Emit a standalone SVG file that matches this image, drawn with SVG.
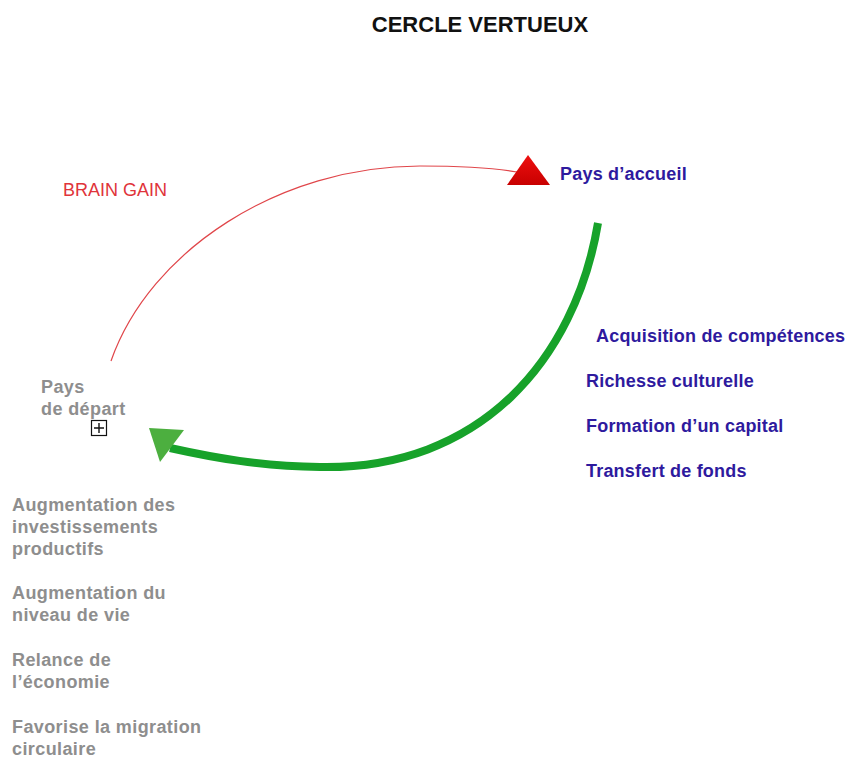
<svg xmlns="http://www.w3.org/2000/svg" width="850" height="758" viewBox="0 0 850 758">
<style>
  text { font-family: "Liberation Sans", Arial, sans-serif; }
  .title { font-size: 22px; font-weight: bold; fill: #111; }
  .blue { font-size: 18px; font-weight: bold; fill: #2e1a9e; letter-spacing: 0.2px; }
  .grey { font-size: 18px; font-weight: bold; fill: #8e8e8e; letter-spacing: 0.4px; }
  .red { font-size: 18px; fill: #e0343a; }
  .redline { fill: none; stroke: #e0464a; stroke-width: 1.2; }
  .greenline { fill: none; stroke: #17a22a; stroke-width: 8; stroke-linecap: butt; }
</style>
<defs>
  <linearGradient id="redGrad" x1="0" y1="0" x2="0" y2="1">
    <stop offset="0" stop-color="#ee1010"/>
    <stop offset="1" stop-color="#c80000"/>
  </linearGradient>
</defs>
<rect width="850" height="758" fill="#ffffff"/>

<g id="title">
  <text class="title" x="480" y="32" text-anchor="middle">CERCLE VERTUEUX</text>
</g>

<g id="connectors">
  <path id="brain-gain-arc" class="redline" d="M111,361 C150,250 280,166 420,166 C460,166 495,168 517,172"/>
  <path id="return-arc" class="greenline" d="M598,223 C575,360 480,470 320,467 C260,466 215,458 170,448"/>
  <polygon id="green-head" points="149,428 184,430 160,462" fill="#4caf3f"/>
</g>

<g id="brain-gain">
  <text class="red" x="63" y="196">BRAIN GAIN</text>
</g>

<g id="pays-accueil">
  <polygon points="507,185 550,185 528,155" fill="url(#redGrad)"/>
  <text class="blue" x="560" y="180">Pays d’accueil</text>
</g>

<g id="pays-depart">
  <text class="grey" x="41" y="393">Pays</text>
  <text class="grey" x="41" y="415">de départ</text>
  <rect x="91.5" y="420.5" width="15" height="15" fill="#ffffff" stroke="#111" stroke-width="1.2"/>
  <path d="M94,428 H104 M99,423 V433" stroke="#111" stroke-width="1.4" fill="none"/>
</g>

<g id="benefices-accueil">
  <text class="blue" x="596" y="342">Acquisition de compétences</text>
  <text class="blue" x="586" y="387">Richesse culturelle</text>
  <text class="blue" x="586" y="432">Formation d’un capital</text>
  <text class="blue" x="586" y="477">Transfert de fonds</text>
</g>

<g id="benefices-depart">
  <text class="grey" x="12" y="511">Augmentation des</text>
  <text class="grey" x="12" y="533">investissements</text>
  <text class="grey" x="12" y="555">productifs</text>
  <text class="grey" x="12" y="599">Augmentation du</text>
  <text class="grey" x="12" y="621">niveau de vie</text>
  <text class="grey" x="12" y="666">Relance de</text>
  <text class="grey" x="12" y="688">l’économie</text>
  <text class="grey" x="12" y="733">Favorise la migration</text>
  <text class="grey" x="12" y="755">circulaire</text>
</g>
</svg>
